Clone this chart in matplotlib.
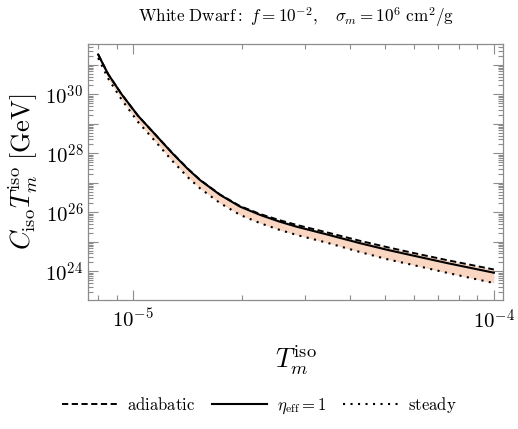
import matplotlib
matplotlib.use("Agg")
import matplotlib.pyplot as plt
import matplotlib.ticker as mticker
import numpy as np

plt.rcParams['mathtext.fontset'] = 'cm'
plt.rcParams['font.family'] = 'serif'
plt.rcParams['font.serif'] = ['DejaVu Serif']

# T_m^iso (GeV) and log10(C_iso T_m^iso / GeV)
t_iso = [0.80e-5, 0.852e-5, 0.928e-5, 1.032e-5, 1.149e-5, 1.28e-5, 1.42e-5, 1.533e-5,
         1.742e-5, 1.979e-5, 2.249e-5, 2.55e-5, 2.84e-5, 3.44e-5, 4.26e-5, 5.09e-5,
         5.98e-5, 7.40e-5, 1.0e-4]
log_eta1 = [31.35, 30.69, 30.01, 29.27, 28.65, 28.02, 27.46, 27.09,
            26.59, 26.19, 25.91, 25.68, 25.51, 25.25, 24.95, 24.72,
            24.53, 24.28, 23.95]
log_adiabatic = [31.35, 30.69, 30.01, 29.27, 28.65, 28.03, 27.47, 27.10,
                 26.60, 26.21, 25.94, 25.73, 25.57, 25.32, 25.03, 24.81,
                 24.62, 24.38, 24.06]
log_steady = [31.23, 30.54, 29.83, 29.06, 28.42, 27.76, 27.18, 26.81,
              26.31, 25.91, 25.63, 25.40, 25.23, 24.97, 24.65, 24.40,
              24.21, 23.95, 23.60]

t = np.array(t_iso)
y_eta = 10.0 ** np.array(log_eta1)
y_adi = 10.0 ** np.array(log_adiabatic)
y_st = 10.0 ** np.array(log_steady)

fig = plt.figure(figsize=(5.18, 4.29), dpi=100)
ax = fig.add_axes([0.170, 0.301, 0.801, 0.596])

ax.fill_between(t, y_st, y_adi, color='#f8d6c2', lw=0)
l1, = ax.plot(t, y_adi, color='black', lw=1.4, ls=(0, (3.2, 1.8)), label=r'$\mathrm{adiabatic}$')
l2, = ax.plot(t, y_eta, color='black', lw=1.5, ls='-', label=r'$\eta_{\rm eff}=1$')
l3, = ax.plot(t, y_st, color='black', lw=1.5, ls=(0, (1, 2.6)), label=r'$\mathrm{steady}$')

ax.set_xscale('log')
ax.set_yscale('log')
ax.set_xlim(7.5e-6, 1.06e-4)
ax.set_ylim(1.07e23, 5.0e31)

ax.xaxis.set_major_locator(mticker.FixedLocator([1e-5, 1e-4]))
ax.xaxis.set_minor_locator(mticker.LogLocator(base=10, subs=np.arange(2, 10), numticks=20))
ax.xaxis.set_major_formatter(mticker.FuncFormatter(lambda v, p: r'$10^{%d}$' % round(np.log10(v))))
ax.xaxis.set_minor_formatter(mticker.NullFormatter())

ax.yaxis.set_major_locator(mticker.FixedLocator([10.0 ** k for k in range(23, 32)]))
ax.yaxis.set_minor_locator(mticker.LogLocator(base=10, subs=np.arange(2, 10), numticks=30))


def yfmt(v, p):
    k = round(np.log10(v))
    if k % 2 == 0:
        return r'$10^{%d}$' % k
    return ''


ax.yaxis.set_major_formatter(mticker.FuncFormatter(yfmt))
ax.yaxis.set_minor_formatter(mticker.NullFormatter())

for s in ax.spines.values():
    s.set_color('#8c8c8c')
    s.set_linewidth(0.9)
ax.tick_params(which='both', direction='in', top=True, right=True, color='#8c8c8c',
               labelsize=15, width=0.8)
ax.tick_params(which='major', length=7)
ax.tick_params(which='minor', length=3.5)
ax.tick_params(axis='x', pad=6)

ax.set_xlabel(r'$T_m^{\rm iso}$', fontsize=19, labelpad=8)
ax.set_ylabel(r'$C_{\rm iso}T_m^{\rm iso}\;[\mathrm{GeV}]$', fontsize=19, labelpad=4)
ax.set_title(r'$\mathrm{White\ Dwarf{:}}\ f=10^{-2},\quad \sigma_m=10^{6}\ \mathrm{cm}^2/\mathrm{g}$',
             fontsize=12.3, pad=16)

fig.legend(handles=[l1, l2, l3], loc='center', bbox_to_anchor=(0.5, 0.055), ncol=3,
           frameon=False, fontsize=12, handlelength=3.3, columnspacing=1.0, handletextpad=0.6)

fig.savefig('out.png', dpi=100)
